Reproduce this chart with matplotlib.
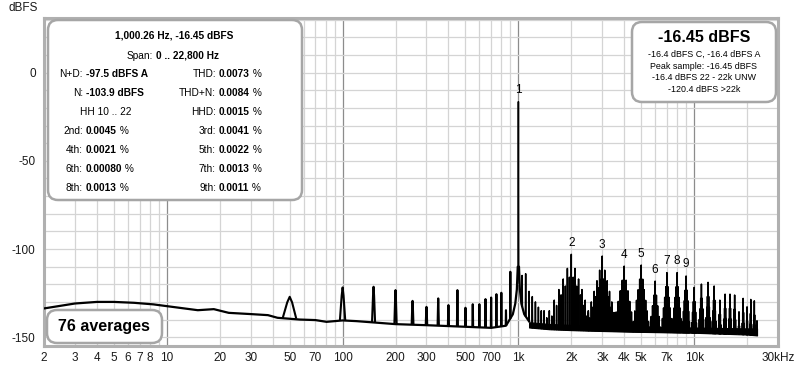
import numpy as np
import matplotlib.pyplot as plt
from matplotlib.patches import FancyBboxPatch
from matplotlib.collections import PolyCollection, LineCollection
from matplotlib.transforms import Affine2D

plt.rcParams['font.family'] = ['Liberation Sans', 'DejaVu Sans']
plt.rcParams['axes.unicode_minus'] = False

# noise floor (Hz, dBFS), incl. the skirt of the 1 kHz tone
floor_f = [2, 3, 4, 5, 6.5, 8.4, 10, 15, 18.5, 22.5, 30, 37.6, 42.6, 57, 70, 81,
           100, 120, 200, 300, 500, 700, 850, 880, 930, 960, 980, 992, 1008,
           1020, 1040, 1080, 1150]
floor_db = [-133.7, -130.9, -130.0, -130.0, -130.5, -131.4, -132.4, -134.7, -134.1,
            -136.2, -136.9, -137.5, -139.0, -140.0, -140.3, -141.3, -140.5, -140.9,
            -142.6, -143.2, -144.1, -144.7, -143.5, -141, -137, -131, -123, -110,
            -110, -123, -131, -137, -141]

# dense noise band above 1 kHz
band_f = [1150, 1500, 2000, 3000, 5000, 10000, 20000, 22800]
band_lo = [-144.5, -145.5, -146, -146.5, -147, -147.5, -148.5, -149]
band_hi = [-141.5, -142.5, -143, -143.5, -144, -144.5, -145, -145]

# mains hum lines below 1 kHz
hum_f = [50, 100, 150, 200, 250, 300, 350, 400, 450, 500, 550, 600, 650, 700,
         750, 800, 850, 900]
hum_db = [-127.1, -121.8, -121.4, -123.3, -129.4, -132.8, -128.0, -131.8, -123.3,
          -133.3, -131.3, -131.3, -128.4, -127.5, -125.6, -124.8, -134.7, -112.9]
hum_w = [4.5, 3.5, 3, 3, 3, 3, 3, 3, 3, 3, 3, 3, 3, 3, 3, 3, 3, 3]

# lines just above the fundamental
post_f = [1050, 1100, 1150, 1200, 1250, 1300, 1350, 1400, 1450]
post_db = [-115, -114, -124, -127, -130, -133, -135, -135, -139]

fund_f = 1000.26
fund_db = -16.45

# harmonics 2..22
harm_n = list(range(2, 23))
harm_db = [-103.0, -104.0, -109.7, -109.1, -118.2, -113.4, -113.4, -115.3, -121.8,
           -119.9, -118.9, -121.0, -129.0, -125.6, -125.6, -126.1, -135.6, -128.0,
           -132.8, -128.6, -129.4]

# sidebands around each harmonic: offset (Hz) and drop below the harmonic (dB)
sb_off = [50, 100, 150, 200, 250, 300, 350, 400, 450, 500]
sb_drop = [13, 8, 18, 14, 23, 20, 29, 26, 35, 32]

edge_f, edge_db = 22780, -140.7

xtick_pos = [2, 3, 4, 5, 6, 7, 8, 10, 20, 30, 50, 70, 100, 200, 300, 500, 700,
             1000, 2000, 3000, 4000, 5000, 7000, 10000, 30000]
xtick_lab = ['2', '3', '4', '5', '6', '7', '8', '10', '20', '30', '50', '70', '100',
             '200', '300', '500', '700', '1k', '2k', '3k', '4k', '5k', '7k', '10k', '30kHz']

fig = plt.figure(figsize=(8, 3.7), dpi=100)
ax = fig.add_axes([44 / 800, 24 / 370, 734 / 800, 328 / 370])
ax.set_xscale('log')
ax.set_xlim(2, 30000)
ax.set_ylim(-155, 31)

# grid
for dec in [1, 10, 100, 1000, 10000]:
    for n in range(1, 10):
        v = n * dec
        if 2 <= v <= 30000:
            ax.axvline(v, color='#8c8c8c' if n == 1 else '#d4d4d4', lw=0.9, zorder=0)
for v in range(-150, 31, 10):
    ax.axhline(v, color='#d4d4d4', lw=0.9, zorder=0)

# spectrum
all_f = np.array(floor_f + band_f[1:])
all_db = np.array(floor_db + band_hi[1:])
ax.plot(floor_f, floor_db, color='black', lw=1.6, zorder=3)
ax.fill_between(band_f, band_lo, band_hi, color='black', lw=0.8, zorder=3)


def base_at(f):
    if f > 1150:
        return np.interp(np.log10(f), np.log10(band_f), band_lo)
    return np.interp(np.log10(f), np.log10(all_f), all_db)


# low hum lines drawn as outlined peaks
lines = []
for f, top, w in zip(hum_f, hum_db, hum_w):
    b = base_at(f)
    lines.append([(f - w, b), (f - 0.35 * w, b + 0.75 * (top - b)),
                  (f, top), (f + 0.35 * w, b + 0.75 * (top - b)), (f + w, b)])
ax.add_collection(LineCollection(lines, colors='black', linewidths=1.5, zorder=4))

# fundamental, harmonics and sidebands as narrow filled spikes
sp_f = post_f + [fund_f]
sp_db = post_db + [fund_db]
for h, lvl in zip(harm_n, harm_db):
    fc = h * 1000
    sp_f.append(fc)
    sp_db.append(lvl)
    for off, drop in zip(sb_off, sb_drop):
        for s in (-1, 1):
            sp_f.append(fc + s * off)
            sp_db.append(lvl - drop)
sp_f.append(edge_f)
sp_db.append(edge_db)

polys = []
for f, top in zip(sp_f, sp_db):
    b = base_at(f)
    if top <= b + 1:
        continue
    polys.append([(f - 4, b), (f, top), (f + 4, b)])
ax.add_collection(PolyCollection(polys, facecolors='black', edgecolors='black',
                                 linewidths=1.1, zorder=4))

# harmonic numbers
ax.annotate('1', (fund_f, fund_db), xytext=(0, 4), textcoords='offset points',
            ha='center', va='bottom', fontsize=8.5, zorder=5)
for h, lvl in zip(harm_n[:8], harm_db[:8]):
    ax.annotate(str(h), (h * 1000, lvl), xytext=(0, 4), textcoords='offset points',
                ha='center', va='bottom', fontsize=8.5, zorder=5)

ax.set_xticks(xtick_pos)
ax.set_xticklabels(xtick_lab)
ax.xaxis.set_minor_locator(plt.NullLocator())
ax.set_yticks([0, -50, -100, -150])
ax.tick_params(length=0, labelsize=8.5, colors='#1a1a1a')
ax.tick_params(axis='x', pad=4)
ax.tick_params(axis='y', pad=6)
for sp in ax.spines.values():
    sp.set_color('#b0b0b0')
    sp.set_linewidth(2.2)

# overlay boxes in image pixel coordinates (y down)
tr = Affine2D().scale(1, -1).translate(0, 370)


def box(x0, y0, x1, y1, r=10):
    p = FancyBboxPatch((x0, y0), x1 - x0, y1 - y0,
                       boxstyle='round,pad=0,rounding_size=%d' % r,
                       transform=tr, facecolor='white', edgecolor='#a6a6a6',
                       lw=1.8, zorder=10, clip_on=False)
    ax.add_patch(p)


def txt(x, y, s, ha='center', bold=False, size=7.3):
    return ax.text(x, y, s, transform=tr, ha=ha, va='center', fontsize=size,
                   fontweight='bold' if bold else 'normal', zorder=11)


def pct(t, size=7.3):
    ax.annotate(' %', xy=(1, 0), xycoords=t, ha='left', va='bottom',
                fontsize=size, zorder=11)


fig.text(23, 8, 'dBFS', transform=tr, ha='center', va='center', fontsize=8.5,
         color='#1a1a1a')

box(48, 20, 302, 200)
txt(174, 36, '1,000.26 Hz, -16.45 dBFS', bold=True)
txt(153, 56, 'Span:', ha='right')
txt(156, 56, '0 .. 22,800 Hz', ha='left', bold=True)

left_rows = [('N+D:', '-97.5 dBFS A', False), ('N:', '-103.9 dBFS', False),
             (None, None, None), ('2nd:', '0.0045', True), ('4th:', '0.0021', True),
             ('6th:', '0.00080', True), ('8th:', '0.0013', True)]
right_rows = [('THD:', '0.0073'), ('THD+N:', '0.0084'), ('HHD:', '0.0015'),
              ('3rd:', '0.0041'), ('5th:', '0.0022'), ('7th:', '0.0013'),
              ('9th:', '0.0011')]
row_y = [74, 93, 112, 131, 150, 169, 188]
for y, (lab, val, p), (rlab, rval) in zip(row_y, left_rows, right_rows):
    if lab is None:
        txt(106, y, 'HH 10 .. 22')
    else:
        txt(83, y, lab, ha='right')
        t = txt(86, y, val, ha='left', bold=True)
        if p:
            pct(t)
    txt(216, y, rlab, ha='right')
    t = txt(219, y, rval, ha='left', bold=True)
    pct(t)

box(632, 22, 776, 102)
txt(704, 38, '-16.45 dBFS', bold=True, size=11.5)
for y, s in zip([54, 66.5, 78, 90], ['-16.4 dBFS C, -16.4 dBFS A',
                                     'Peak sample: -16.45 dBFS',
                                     '-16.4 dBFS 22 - 22k UNW',
                                     '-120.4 dBFS >22k']):
    txt(704, y, s, size=6.4)

box(47, 310, 162, 343)
txt(104, 327, '76 averages', bold=True, size=11.5)

fig.savefig('out.png', dpi=100)
